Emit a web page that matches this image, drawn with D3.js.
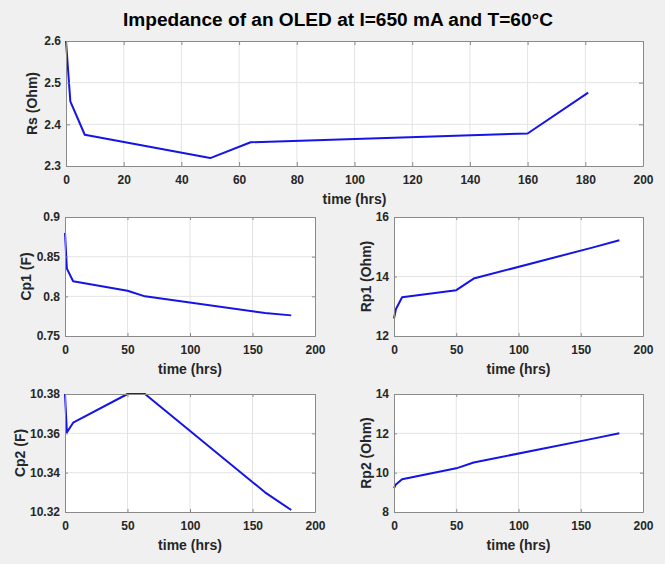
<!DOCTYPE html>
<html>
<head>
<meta charset="utf-8">
<script src="https://cdn.jsdelivr.net/npm/d3@7"></script>
<style>
  html, body { margin: 0; padding: 0; background: #f0f0f0; }
  svg { display: block; }
  text { font-family: "Liberation Sans", Arial, sans-serif; font-weight: bold; fill: #262626; }
</style>
</head>
<body>
<svg id="chart" width="665" height="564"></svg>
<script>
// ---- data ----
const titleText = "Impedance of an OLED at I=650 mA and T=60°C";
const xLabel = "time (hrs)";
const timeHrs = [0, 1.5, 6.5, 50, 64, 160, 181];
const rsOhm  = [2.6, 2.455, 2.375, 2.319, 2.357, 2.378, 2.476];
const cp1F   = [0.880, 0.835, 0.819, 0.807, 0.800, 0.779, 0.776];
const rp1Ohm = [12.59, 12.9, 13.3, 13.54, 13.93, 14.98, 15.22];
const cp2F   = [10.38, 10.3605, 10.3654, 10.38, 10.38, 10.33, 10.321];
const rp2Ohm = [9.22, 9.4, 9.67, 10.22, 10.52, 11.73, 12.0];

const xTicksWide  = [0, 20, 40, 60, 80, 100, 120, 140, 160, 180, 200];
const xTicksSmall = [0, 50, 100, 150, 200];
const rsTicks  = [2.3, 2.4, 2.5, 2.6];
const cp1Ticks = [0.75, 0.8, 0.85, 0.9];
const rp1Ticks = [12, 14, 16];
const cp2Ticks = [10.32, 10.34, 10.36, 10.38];
const rp2Ticks = [8, 10, 12, 14];

// ---- layout ----
const panels = [
  { values: rsOhm,  yLabel: "Rs (Ohm)",  yTicks: rsTicks,  xTicks: xTicksWide,  yDom: [2.3, 2.6],  box: [66, 41, 643, 166],  yl: 32,  tick: 4 },
  { values: cp1F,   yLabel: "Cp1 (F)",   yTicks: cp1Ticks, xTicks: xTicksSmall, yDom: [0.75, 0.9], box: [65, 217, 315, 336], yl: 26,  tick: 3 },
  { values: rp1Ohm, yLabel: "Rp1 (Ohm)", yTicks: rp1Ticks, xTicks: xTicksSmall, yDom: [12, 16],    box: [394, 217, 643, 336], yl: 366, tick: 3 },
  { values: cp2F,   yLabel: "Cp2 (F)",   yTicks: cp2Ticks, xTicks: xTicksSmall, yDom: [10.32, 10.38], box: [65, 394, 315, 512], yl: 20, tick: 3 },
  { values: rp2Ohm, yLabel: "Rp2 (Ohm)", yTicks: rp2Ticks, xTicks: xTicksSmall, yDom: [8, 14],     box: [394, 394, 643, 512], yl: 366, tick: 3 }
];

const svg = d3.select("#chart");
svg.append("rect").attr("width", 665).attr("height", 564).attr("fill", "#f0f0f0");

svg.append("text")
  .attr("x", 338).attr("y", 26)
  .attr("text-anchor", "middle")
  .attr("font-size", 18)
  .attr("textLength", 430)
  .attr("lengthAdjust", "spacingAndGlyphs")
  .style("fill", "#000")
  .text(titleText);

const axisColor = "#8a8a8a";
const gridColor = "#e4e4e4";

panels.forEach(p => {
  const [x0, y0, x1, y1] = p.box;
  const x = d3.scaleLinear().domain([0, 200]).range([x0, x1]);
  const y = d3.scaleLinear().domain(p.yDom).range([y1, y0]);
  const g = svg.append("g");

  g.append("rect").attr("x", x0).attr("y", y0).attr("width", x1 - x0).attr("height", y1 - y0).attr("fill", "#fff");

  // grid
  g.selectAll(".gx").data(p.xTicks.slice(1, -1)).enter().append("line")
    .attr("x1", d => x(d)).attr("x2", d => x(d)).attr("y1", y0).attr("y2", y1)
    .attr("stroke", gridColor).attr("stroke-width", 1);
  g.selectAll(".gy").data(p.yTicks.slice(1, -1)).enter().append("line")
    .attr("y1", d => y(d)).attr("y2", d => y(d)).attr("x1", x0).attr("x2", x1)
    .attr("stroke", gridColor).attr("stroke-width", 1);

  // line
  const line = d3.line().x((d, i) => x(timeHrs[i])).y(d => y(d));
  g.append("path").datum(p.values).attr("d", line)
    .attr("fill", "none").attr("stroke", "#1414e6").attr("stroke-width", 2)
    .attr("stroke-linejoin", "round");

  // axes (ticks inside)
  const fmt = d => String(d);
  const bottom = g.append("g").attr("transform", `translate(0,${y1})`)
    .call(d3.axisBottom(x).tickValues(p.xTicks).tickFormat(fmt).tickSizeInner(-p.tick).tickSizeOuter(0).tickPadding(9));
  const top = g.append("g").attr("transform", `translate(0,${y0})`)
    .call(d3.axisTop(x).tickValues(p.xTicks).tickFormat("").tickSizeInner(-p.tick).tickSizeOuter(0));
  const left = g.append("g").attr("transform", `translate(${x0},0)`)
    .call(d3.axisLeft(y).tickValues(p.yTicks).tickFormat(fmt).tickSizeInner(-p.tick).tickSizeOuter(0).tickPadding(5));
  const right = g.append("g").attr("transform", `translate(${x1},0)`)
    .call(d3.axisRight(y).tickValues(p.yTicks).tickFormat("").tickSizeInner(-p.tick).tickSizeOuter(0));
  [bottom, top, left, right].forEach(a => {
    a.select(".domain").attr("stroke", axisColor).attr("stroke-width", 1);
    a.selectAll(".tick line").attr("stroke", axisColor);
    a.selectAll(".tick text").attr("font-size", 12).attr("font-family", "Liberation Sans, Arial, sans-serif")
      .attr("font-weight", "bold").attr("fill", "#262626");
  });

  // labels
  g.append("text").attr("x", (x0 + x1) / 2).attr("y", y1 + 33)
    .attr("text-anchor", "middle").attr("dominant-baseline", "central")
    .attr("font-size", 14).text(xLabel);
  g.append("text")
    .attr("transform", `translate(${p.yl},${(y0 + y1) / 2}) rotate(-90)`)
    .attr("text-anchor", "middle").attr("dominant-baseline", "central")
    .attr("font-size", 14).text(p.yLabel);
});
</script>
</body>
</html>
